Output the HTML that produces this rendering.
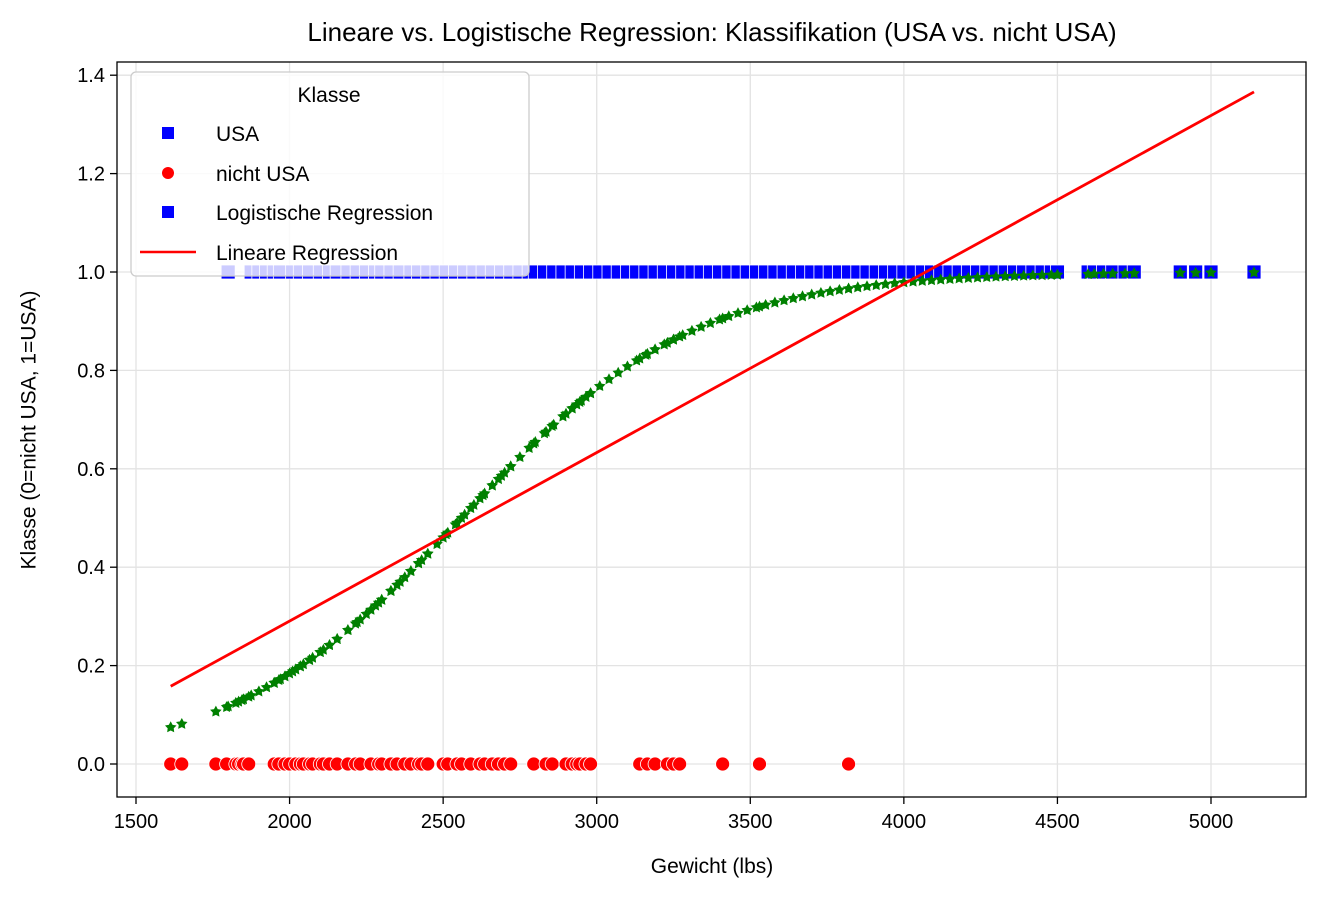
<!DOCTYPE html>
<html><head><meta charset="utf-8"><style>
body{margin:0;background:#fff;}
svg{font-family:"Liberation Sans","DejaVu Sans",sans-serif;}
</style></head><body>
<svg id="chart" width="1326" height="898" xmlns="http://www.w3.org/2000/svg">
<rect width="1326" height="898" fill="#fff"/>
<g id="grid"></g>
<g id="marks"></g>
<rect x="117" y="62" width="1189" height="735" fill="none" stroke="#000" stroke-width="1.3"/>
<g id="axes"></g>
<text x="712" y="41" font-size="26" text-anchor="middle">Lineare vs. Logistische Regression: Klassifikation (USA vs. nicht USA)</text>
<text x="712" y="873" font-size="21" text-anchor="middle">Gewicht (lbs)</text>
<text x="30" y="430" font-size="21" text-anchor="middle" dominant-baseline="middle" transform="rotate(-90 30 430)">Klasse (0=nicht USA, 1=USA)</text>
<g>
<rect x="131" y="72" width="398" height="204" rx="5" fill="#fff" fill-opacity="0.8" stroke="#ccc" stroke-width="1.3"/>
<text x="329" y="102" font-size="21" text-anchor="middle">Klasse</text>
<g><rect x="162" y="127" width="12" height="12" fill="#00f"/><text x="216" y="141" font-size="21">USA</text></g>
<g><circle cx="168" cy="173" r="6" fill="#f00"/><text x="216" y="181" font-size="21">nicht USA</text></g>
<g><rect x="162" y="206" width="12" height="12" fill="#00f"/><text x="216" y="220" font-size="21">Logistische Regression</text></g>
<g><line x1="140" y1="252" x2="196" y2="252" stroke="#f00" stroke-width="2.5"/><text x="216" y="260" font-size="21">Lineare Regression</text></g>
</g>
</svg>
<script>
const xTicks=[1500,2000,2500,3000,3500,4000,4500,5000];
const yTicks=[0.0,0.2,0.4,0.6,0.8,1.0,1.2,1.4];
const nonUsaWeights=[1613,1649,1760,1795,1825,1834,1845,1850,1867,1950,1965,1985,2000,2020,2035,2045,2065,2075,2100,2110,2130,2155,2190,2215,2230,2265,2290,2300,2330,2350,2375,2395,2420,2430,2450,2500,2515,2545,2560,2590,2620,2635,2660,2680,2700,2720,2795,2835,2855,2900,2920,2935,2945,2965,2980,3140,3165,3190,3230,3250,3270,3410,3530,3820];
const usaWeights=[1800,1875,1900,1925,1950,1970,2010,2035,2065,2100,2130,2155,2190,2220,2250,2280,2300,2330,2360,2395,2420,2450,2480,2510,2540,2570,2600,2630,2660,2690,2720,2750,2780,2800,2830,2860,2890,2920,2950,2980,3010,3040,3070,3100,3130,3160,3190,3220,3250,3280,3310,3340,3370,3400,3430,3460,3490,3520,3550,3580,3610,3640,3670,3700,3730,3760,3790,3820,3850,3880,3910,3940,3970,4000,4030,4060,4090,4120,4150,4180,4210,4240,4270,4300,4330,4360,4390,4420,4450,4480,4500,4600,4620,4650,4680,4720,4750,4900,4950,5000,5140];
const logitCoef=[-6.81,0.00266];
const linearCoef=[-0.3945,0.0003425];
const NS='http://www.w3.org/2000/svg';
const X=v=>136+(v-1500)*(1211-136)/3500;
const Y=v=>764-v*(764-272);
function mk(tag,attrs,parent){const e=document.createElementNS(NS,tag);for(const k in attrs)e.setAttribute(k,attrs[k]);parent.appendChild(e);return e;}
function starPts(cx,cy,R,r){let s=[];for(let i=0;i<10;i++){const a=-Math.PI/2+i*Math.PI/5;const rr=i%2?r:R;s.push((cx+rr*Math.cos(a)).toFixed(1)+','+(cy+rr*Math.sin(a)).toFixed(1));}return s.join(' ');}
const grid=document.getElementById('grid'),marks=document.getElementById('marks'),axes=document.getElementById('axes');
xTicks.forEach(t=>{
 const g=mk('line',{x1:X(t),x2:X(t),y1:62,y2:797,stroke:'#e3e3e3','stroke-width':1.3},grid);
 
 
 mk('line',{x1:X(t),x2:X(t),y1:797,y2:804,stroke:'#000','stroke-width':1.3},axes);
 const l=mk('text',{x:X(t),y:828,'font-size':20,'text-anchor':'middle'},axes);l.textContent=t;
 
 
});
yTicks.forEach(t=>{
 const g=mk('line',{x1:117,x2:1306,y1:Y(t),y2:Y(t),stroke:'#e3e3e3','stroke-width':1.3},grid);
 
 
 mk('line',{x1:110,x2:117,y1:Y(t),y2:Y(t),stroke:'#000','stroke-width':1.3},axes);
 const l=mk('text',{x:105,y:Y(t)+7,'font-size':20,'text-anchor':'end'},axes);l.textContent=t.toFixed(1);
 
 
});
usaWeights.forEach(w=>{
 const r=mk('rect',{x:X(w)-7,y:Y(1)-7,width:14,height:14,fill:'#00f',stroke:'#fff','stroke-width':0.8},marks);
 
 
});
nonUsaWeights.forEach(w=>{
 const c=mk('circle',{cx:X(w),cy:Y(0),r:7,fill:'#f00',stroke:'#fff','stroke-width':0.8},marks);
 
 
});
const all=nonUsaWeights.concat(usaWeights);
all.forEach(w=>{
 const p=1/(1+Math.exp(-(logitCoef[0]+logitCoef[1]*w)));
 const s=mk('polygon',{points:starPts(X(w),Y(p),5,2.6),fill:'#008000',stroke:'#008000','stroke-width':1},marks);
 
 
});
const minW=Math.min(...all),maxW=Math.max(...all);
const ln=mk('line',{x1:X(minW),y1:Y(linearCoef[0]+linearCoef[1]*minW),x2:X(maxW),y2:Y(linearCoef[0]+linearCoef[1]*maxW),stroke:'#f00','stroke-width':2.8},marks);


</script>
</body></html>
